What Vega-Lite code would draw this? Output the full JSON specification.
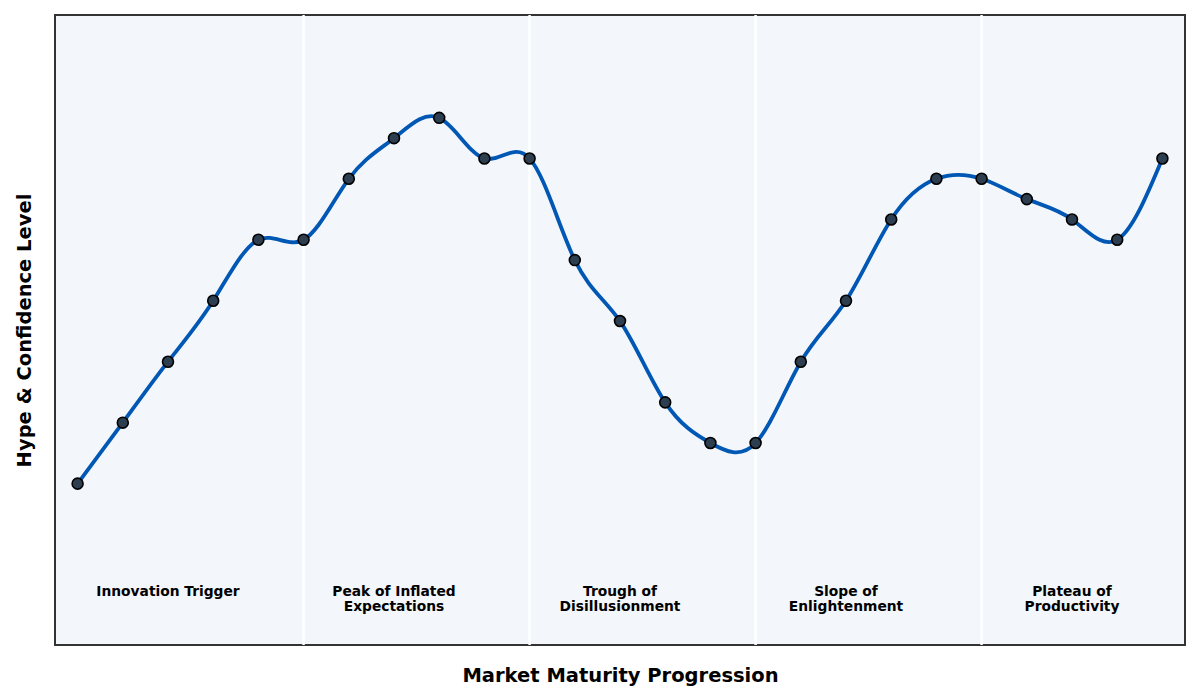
{
  "$schema": "https://vega.github.io/schema/vega-lite/v6.json",
  "width": 1130,
  "height": 630,
  "autosize": "none",
  "padding": {"left": 55, "top": 15, "right": 15, "bottom": 55},
  "background": "white",
  "config": {
    "font": "DejaVu Sans",
    "view": {"fill": "#f3f6fa", "stroke": "#333333", "strokeWidth": 2}
  },
  "datasets": {
    "curve": [
      {"step": 0, "hype": 10},
      {"step": 1, "hype": 25},
      {"step": 2, "hype": 40},
      {"step": 3, "hype": 55},
      {"step": 4, "hype": 70},
      {"step": 5, "hype": 70},
      {"step": 6, "hype": 85},
      {"step": 7, "hype": 95},
      {"step": 8, "hype": 100},
      {"step": 9, "hype": 90},
      {"step": 10, "hype": 90},
      {"step": 11, "hype": 65},
      {"step": 12, "hype": 50},
      {"step": 13, "hype": 30},
      {"step": 14, "hype": 20},
      {"step": 15, "hype": 20},
      {"step": 16, "hype": 40},
      {"step": 17, "hype": 55},
      {"step": 18, "hype": 75},
      {"step": 19, "hype": 85},
      {"step": 20, "hype": 85},
      {"step": 21, "hype": 80},
      {"step": 22, "hype": 75},
      {"step": 23, "hype": 70},
      {"step": 24, "hype": 90}
    ],
    "boundaries": [
      {"step": 5},
      {"step": 10},
      {"step": 15},
      {"step": 20}
    ],
    "phases": [
      {"step": 2, "level": -14.9, "phase": "Innovation Trigger"},
      {"step": 7, "level": -14.9, "phase": "Peak of Inflated\nExpectations"},
      {"step": 12, "level": -14.9, "phase": "Trough of\nDisillusionment"},
      {"step": 17, "level": -14.9, "phase": "Slope of\nEnlightenment"},
      {"step": 22, "level": -14.9, "phase": "Plateau of\nProductivity"}
    ]
  },
  "encoding": {
    "x": {
      "field": "step",
      "type": "quantitative",
      "scale": {"domain": [-0.5, 24.5], "nice": false, "zero": false},
      "axis": {
        "title": "Market Maturity Progression",
        "labels": false,
        "ticks": false,
        "domain": false,
        "grid": false,
        "titleFontSize": 19.5,
        "titleFontWeight": "bold",
        "titleColor": "black",
        "titlePadding": 21
      }
    }
  },
  "layer": [
    {
      "data": {"name": "boundaries"},
      "mark": {"type": "rule", "color": "white", "strokeWidth": 2.5},
      "encoding": {}
    },
    {
      "data": {"name": "curve"},
      "mark": {"type": "line", "interpolate": "natural", "color": "#0057b4", "strokeWidth": 3.8},
      "encoding": {
        "y": {
          "field": "hype",
          "type": "quantitative",
          "scale": {"domain": [-29.7, 125.3], "nice": false, "zero": false},
          "axis": {
            "title": "Hype & Confidence Level",
            "labels": false,
            "ticks": false,
            "domain": false,
            "grid": false,
            "titleFontSize": 19.5,
            "titleFontWeight": "bold",
            "titleColor": "black",
            "titlePadding": 21
          }
        }
      }
    },
    {
      "data": {"name": "curve"},
      "mark": {"type": "point", "filled": true, "size": 120, "fill": "#2c3e50", "stroke": "black", "strokeWidth": 1.6, "opacity": 1},
      "encoding": {
        "y": {"field": "hype", "type": "quantitative"}
      }
    },
    {
      "data": {"name": "phases"},
      "mark": {"type": "text", "baseline": "top", "align": "center", "fontWeight": "bold", "fontSize": 13.8, "lineBreak": "\n", "lineHeight": 15, "color": "black"},
      "encoding": {
        "y": {"field": "level", "type": "quantitative"},
        "text": {"field": "phase"}
      }
    }
  ]
}
